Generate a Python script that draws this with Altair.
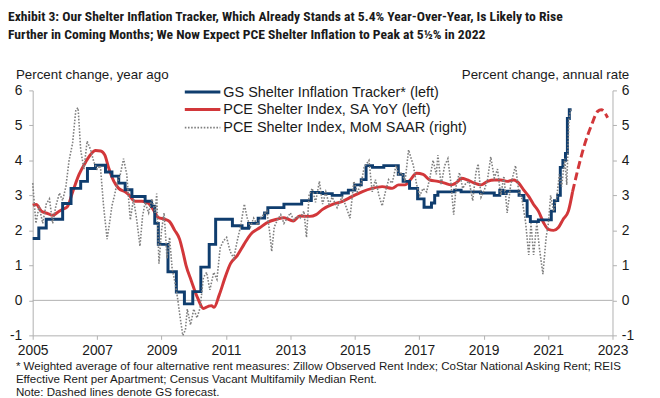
import altair as alt
import pandas as pd

# ---------------- data ----------------
# GS Shelter Inflation Tracker (left axis), step series
gs_t = [2005.0, 2005.19, 2005.42, 2005.93, 2006.19, 2006.49, 2006.70, 2006.95, 2007.26, 2007.46,
        2007.67, 2007.87, 2008.08, 2008.49, 2008.69, 2008.79, 2008.90, 2009.2, 2009.46, 2009.71,
        2009.97, 2010.22, 2010.48, 2010.68, 2011.2, 2011.5, 2011.7, 2012.0, 2012.2, 2012.3,
        2012.8, 2013.35, 2013.65, 2014.0, 2014.3, 2014.6, 2014.8, 2015.0, 2015.2, 2015.35,
        2015.55, 2015.9, 2016.35, 2016.5, 2016.7, 2016.95, 2017.15, 2017.38, 2017.48, 2017.58,
        2018.1, 2018.3, 2018.9, 2019.33, 2019.5, 2019.6, 2019.7, 2020.1, 2020.25, 2020.35,
        2020.45, 2020.7, 2021.1, 2021.2, 2021.3, 2021.38, 2021.46, 2021.54, 2021.6, 2021.66, 2021.73]
gs_v = [1.77, 2.07, 2.32, 2.77, 3.2, 3.4, 3.77, 3.86, 3.67, 3.55,
        3.35, 3.16, 2.97, 2.83, 2.69, 2.2, 1.6, 0.82, 0.24, -0.1,
        0.25, 0.95, 1.6, 2.32, 2.13, 2.06, 2.2, 2.35, 2.5, 2.65,
        2.75, 2.85, 3.08, 3.05, 3.0, 3.07, 3.15, 3.3, 3.45, 3.85,
        3.8, 3.85, 3.6, 3.4, 3.2, 2.9, 2.66, 2.78, 3.0, 3.1,
        3.15, 3.1, 3.07, 3.0, 3.15, 3.05, 3.12, 3.0, 2.85, 2.4,
        2.25, 2.3, 2.55, 2.85, 3.0, 3.8, 4.0, 4.2, 5.2, 5.45, 5.45]

# PCE Shelter Index, SA YoY (left axis)
pce_t = [2005.0, 2005.11, 2005.27, 2005.47, 2005.62, 2005.78, 2005.93, 2006.08, 2006.24, 2006.44,
         2006.65, 2006.8, 2006.95, 2007.11, 2007.24, 2007.36, 2007.52, 2007.67, 2007.87, 2007.98,
         2008.18, 2008.39, 2008.59, 2008.74, 2008.9, 2009.1, 2009.25, 2009.41, 2009.56, 2009.66,
         2009.76, 2009.92, 2010.12, 2010.3, 2010.45, 2010.55, 2010.63, 2010.79, 2010.99, 2011.14,
         2011.35, 2011.56, 2011.76, 2012.06, 2012.27, 2012.58, 2012.8, 2013.09, 2013.29, 2013.6,
         2013.8, 2014.0, 2014.31, 2014.62, 2014.92, 2015.24, 2015.54, 2015.85, 2016.16, 2016.36,
         2016.56, 2016.72, 2016.92, 2017.12, 2017.33, 2017.58, 2017.79, 2017.99, 2018.2, 2018.3,
         2018.5, 2018.71, 2018.92, 2019.12, 2019.33, 2019.53, 2019.73, 2019.94, 2020.09, 2020.24,
         2020.4, 2020.55, 2020.7, 2020.86, 2021.01, 2021.17, 2021.32, 2021.47, 2021.63, 2021.76]
pce_v = [2.72, 2.74, 2.55, 2.48, 2.43, 2.52, 2.6, 2.68, 3.1, 3.6,
         3.96, 4.17, 4.28, 4.27, 4.15, 3.78, 3.4, 3.2, 3.1, 3.02,
         2.83, 2.83, 2.78, 2.6, 2.37, 2.32, 2.25, 2.0, 1.75, 1.4,
         1.0, 0.57, 0.07, -0.23, -0.17, -0.15, -0.2, 0.15, 0.7, 1.05,
         1.28, 1.6, 1.88, 2.08, 2.22, 2.32, 2.36, 2.27, 2.41, 2.4,
         2.45, 2.6, 2.74, 2.83, 2.97, 3.11, 3.2, 3.25, 3.2, 3.3,
         3.3, 3.44, 3.63, 3.6, 3.44, 3.4, 3.35, 3.3, 3.4, 3.49,
         3.44, 3.35, 3.3, 3.4, 3.44, 3.44, 3.4, 3.44, 3.35, 3.16,
         2.97, 2.74, 2.55, 2.22, 2.03, 2.0, 2.08, 2.32, 2.55, 3.1]

# GS forecast of PCE Shelter YoY (dashed)
fc_t = [2021.76, 2021.93, 2022.14, 2022.34, 2022.54, 2022.65, 2022.85]
fc_v = [3.1, 3.76, 4.47, 4.99, 5.4, 5.45, 5.22]

# PCE Shelter Index, MoM SAAR (right axis)
mom_t = [2005.0, 2005.1, 2005.2, 2005.31, 2005.42, 2005.52, 2005.62, 2005.72, 2005.83, 2005.93,
         2006.03, 2006.13, 2006.24, 2006.34, 2006.41, 2006.49, 2006.59, 2006.69, 2006.8, 2006.9,
         2007.0, 2007.1, 2007.2, 2007.31, 2007.4, 2007.46, 2007.54, 2007.62, 2007.72, 2007.82,
         2007.92, 2008.03, 2008.13, 2008.23, 2008.33, 2008.41, 2008.49, 2008.6, 2008.7, 2008.8,
         2008.85, 2008.92, 2009.0, 2009.08, 2009.17, 2009.25, 2009.33, 2009.42, 2009.5, 2009.58,
         2009.66, 2009.74, 2009.8, 2009.9, 2010.0, 2010.1, 2010.2, 2010.3, 2010.4, 2010.5,
         2010.62, 2010.72, 2010.82, 2010.92, 2011.02, 2011.13, 2011.24, 2011.35, 2011.45, 2011.57,
         2011.66, 2011.76, 2011.86, 2011.97, 2012.07, 2012.17, 2012.27, 2012.35, 2012.42, 2012.5,
         2012.6, 2012.7, 2012.8, 2012.9, 2013.0, 2013.1, 2013.2, 2013.3, 2013.42, 2013.5,
         2013.58, 2013.68, 2013.78, 2013.9, 2014.0, 2014.1, 2014.2, 2014.3, 2014.45, 2014.6,
         2014.7, 2014.85, 2014.97, 2015.08, 2015.19, 2015.29, 2015.44, 2015.54, 2015.64, 2015.75,
         2015.85, 2015.95, 2016.05, 2016.16, 2016.28, 2016.36, 2016.46, 2016.56, 2016.67, 2016.75,
         2016.82, 2016.92, 2017.02, 2017.12, 2017.23, 2017.33, 2017.43, 2017.53, 2017.58, 2017.68,
         2017.79, 2017.89, 2017.99, 2018.07, 2018.15, 2018.25, 2018.35, 2018.45, 2018.55, 2018.66,
         2018.76, 2018.83, 2018.92, 2019.02, 2019.12, 2019.22, 2019.33, 2019.43, 2019.53, 2019.63,
         2019.73, 2019.84, 2019.99, 2020.09, 2020.19, 2020.3, 2020.4, 2020.47, 2020.55, 2020.65,
         2020.73, 2020.84, 2020.94, 2021.01, 2021.08, 2021.17, 2021.27, 2021.35, 2021.42, 2021.52,
         2021.58, 2021.65, 2021.7]
mom_v = [3.35, 2.2, 2.7, 2.2, 2.75, 2.9, 2.2, 2.7, 3.07, 2.85,
         3.25, 4.0, 4.5, 5.45, 5.5, 4.3, 3.75, 4.55, 4.3, 3.95,
         3.75, 3.85, 2.7, 1.75, 2.3, 2.7, 3.0, 3.35, 3.6, 4.05,
         3.6, 2.3, 2.9, 2.3, 1.55, 2.4, 2.8, 2.5, 2.9, 2.5,
         3.05, 1.05, 2.0, 2.5, 1.2, 1.8, 0.9, 0.5, 0.05, -0.5,
         -1.0, -0.85, -0.25, -0.7, -0.25, -0.5, -0.2, 0.65, 0.8, 0.3,
         0.8, 0.6, 1.5, 1.7, 1.8, 1.4, 1.2, 1.7, 2.1, 2.75,
         2.35, 2.1, 2.35, 2.15, 2.35, 2.45, 2.55, 2.0, 1.4, 2.1,
         2.3, 2.45, 2.2, 2.35, 2.5, 2.3, 2.4, 2.35, 2.55, 1.8,
         3.0, 3.2, 2.8, 3.4, 2.75, 3.1, 2.75, 2.95, 2.65, 2.95,
         2.75, 2.35, 3.4, 3.1, 3.3, 3.8, 4.0, 3.1, 3.45, 3.0,
         2.7, 3.1, 3.45, 3.35, 3.85, 3.6, 3.65, 3.4, 4.3, 4.05,
         3.85, 3.3, 3.0, 3.2, 3.1, 3.5, 4.0, 3.6, 4.15, 3.3,
         3.85, 4.05, 3.3, 2.45, 3.3, 3.65, 3.2, 3.35, 3.4, 2.85,
         3.65, 3.9, 2.95, 3.15, 3.45, 4.1, 3.5, 3.75, 3.0, 3.55,
         2.5, 3.3, 3.85, 3.1, 2.9, 2.25, 1.3, 2.2, 1.3, 2.2,
         1.5, 0.75, 1.8, 2.2, 3.0, 2.55, 2.95, 3.6, 3.25, 4.05,
         3.3, 5.2, 5.45]

x_ticks = [2005, 2007, 2009, 2011, 2013, 2015, 2017, 2019, 2021, 2023]
y_ticks = [-1, 0, 1, 2, 3, 4, 5, 6]

title_lines = ["Exhibit 3: Our Shelter Inflation Tracker, Which Already Stands at 5.4% Year-Over-Year, Is Likely to Rise",
               "Further in Coming Months; We Now Expect PCE Shelter Inflation to Peak at 5½% in 2022"]
legend_labels = ["GS Shelter Inflation Tracker* (left)", "PCE Shelter Index, SA YoY (left)",
                 "PCE Shelter Index, MoM SAAR (right)"]
foot_lines = ["* Weighted average of four alternative rent measures: Zillow Observed Rent Index; CoStar National Asking Rent; REIS",
              "Effective Rent per Apartment; Census Vacant Multifamily Median Rent.",
              "Note: Dashed lines denote GS forecast."]

# ---------------- styling ----------------
BLUE = "#0f3d6e"
RED = "#d2373a"
GRAY = "#7f7f7f"
AX = "#b0b0b0"
TXT = "#1a1a1a"
FONT = "Liberation Sans, Arial, sans-serif"
TFONT = "Liberation Sans Narrow, Roboto Condensed, Arial Narrow, DejaVu Sans Condensed, sans-serif"

W, H = 587, 248
xscale = alt.Scale(domain=[2005, 2023], nice=False, zero=False)
yscale = alt.Scale(domain=[-1, 6], nice=False, zero=False)

x_axis = alt.Axis(values=x_ticks, format="d", grid=False, domainColor=AX, tickColor=AX, tickSize=4,
                  labelFontSize=14, labelFont=FONT, labelColor=TXT, labelPadding=4, labelFlush=False,
                  labelOverlap=False, title=None)
left_axis = alt.Axis(values=y_ticks, labelExpr="'' + datum.value", grid=False, orient="left",
                     domainColor=AX, tickColor=AX, tickSize=4, labelFontSize=14, labelFont=FONT,
                     labelColor=TXT, labelPadding=7, title=None)
right_axis = alt.Axis(values=y_ticks, labelExpr="'' + datum.value", grid=False, orient="right",
                      domainColor=AX, tickColor=AX, tickSize=4, labelFontSize=14, labelFont=FONT,
                      labelColor=TXT, labelPadding=5, title=None)

gs_df = pd.DataFrame({"t": gs_t, "v": gs_v})
pce_df = pd.DataFrame({"t": pce_t, "v": pce_v})
fc_df = pd.DataFrame({"t": fc_t, "v": fc_v})
mom_df = pd.DataFrame({"t": mom_t, "v": mom_v})
one = pd.DataFrame({"a": [0]})

X = alt.X("t:Q", scale=xscale, axis=x_axis)

zero = alt.Chart(one).mark_rule(color=AX, strokeWidth=1).encode(
    y=alt.YDatum(0, scale=yscale, axis=None))

blue = alt.Chart(gs_df).mark_line(color=BLUE, strokeWidth=3, interpolate="step-after").encode(
    x=X, y=alt.Y("v:Q", scale=yscale, axis=left_axis))

red = alt.Chart(pce_df).mark_line(color=RED, strokeWidth=3, interpolate="monotone").encode(
    x=X, y=alt.Y("v:Q", scale=yscale, axis=None))

redfc = alt.Chart(fc_df).mark_line(color=RED, strokeWidth=3, strokeDash=[8, 4], interpolate="monotone").encode(
    x=X, y=alt.Y("v:Q", scale=yscale, axis=None))

gray = alt.Chart(mom_df).mark_line(color=GRAY, strokeWidth=1.6, strokeDash=[1.6, 1.6]).encode(
    x=X, y=alt.Y("v:Q", scale=yscale, axis=right_axis))


def txt(s, x, y, size=14, font=FONT, weight="normal", align="left", lh=None, color=TXT):
    kw = {}
    if lh is not None:
        kw["lineHeight"] = lh
    return alt.Chart(one).mark_text(text=s, align=align, baseline="alphabetic", fontSize=size, font=font,
                                    fontWeight=weight, color=color, **kw).encode(
        x=alt.value(x), y=alt.value(y))


def leg_line(x1, x2, y, color, width, dash=None):
    kw = {}
    if dash is not None:
        kw["strokeDash"] = dash
    return alt.Chart(one).mark_rule(color=color, strokeWidth=width, **kw).encode(
        x=alt.value(x1), x2=alt.value(x2), y=alt.value(y))


# positions relative to plot origin (page x=33, y=89)
layers = [
    zero, red, redfc, blue, gray,
    txt(title_lines, -25, -70.5, size=13.8, font=TFONT, weight="bold", lh=18),
    txt("Percent change, year ago", -17, -12, size=13.5),
    txt("Percent change, annual rate", 604, -12, size=13.5, align="right"),
    leg_line(154, 190, 1.7, BLUE, 3),
    leg_line(154, 190, 19.3, RED, 3),
    leg_line(154, 190, 37.7, GRAY, 1.6, [1.6, 1.6]),
    txt(legend_labels[0], 193, 6.5, size=14.6),
    txt(legend_labels[1], 193, 24.1, size=14.6),
    txt(legend_labels[2], 193, 42.5, size=14.6),
    txt(foot_lines, -17, 283, size=11.7, lh=13),
]

chart = alt.layer(*layers).resolve_scale(y="independent").properties(
    width=W, height=H,
    padding={"left": 25, "top": 81, "right": 40, "bottom": 61},
    autosize=alt.AutoSizeParams(type="none"),
).configure_view(stroke=None)

chart.save("out.html", embed_options={"renderer": "svg", "actions": False})
